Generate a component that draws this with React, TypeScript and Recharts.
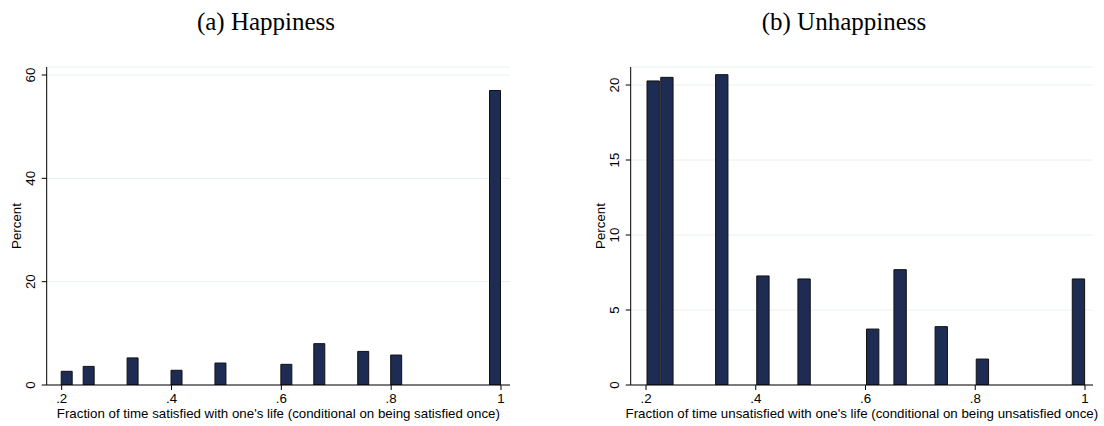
import React from 'react';
import { BarChart, Bar, XAxis, YAxis, CartesianGrid, Label } from 'recharts';

// ---- Data ----
// (a) Happiness: histogram bins of width 0.02 (bin centers) and percent
const happyBinCenters = [0.21, 0.25, 0.33, 0.41, 0.49, 0.61, 0.67, 0.75, 0.81, 0.99];
const happyPercent = [2.65, 3.6, 5.25, 2.85, 4.25, 4.0, 8.0, 6.5, 5.8, 57.0];
const happyBinWidth = 0.02;
const happyYTicks = [0, 20, 40, 60];

// (b) Unhappiness: histogram bins of width 0.025 (bin centers) and percent
const unhappyBinCenters = [0.2125, 0.2375, 0.3375, 0.4125, 0.4875, 0.6125, 0.6625, 0.7375, 0.8125, 0.9875];
const unhappyPercent = [20.27, 20.51, 20.69, 7.27, 7.07, 3.73, 7.69, 3.89, 1.73, 7.07];
const unhappyBinWidth = 0.025;
const unhappyYTicks = [0, 5, 10, 15, 20];

const xTicks = [0.2, 0.4, 0.6, 0.8, 1];

const titleA = '(a) Happiness';
const titleB = '(b) Unhappiness';
const xTitleA = "Fraction of time satisfied with one's life (conditional on being satisfied once)";
const xTitleB = "Fraction of time unsatisfied with one's life (conditional on being unsatisfied once)";
const yTitle = 'Percent';

// ---- Styles ----
const FONT = '"Liberation Sans", Arial, sans-serif';
const FS = 13.3;
const BAR_FILL = '#1e2c53';
const BAR_STROKE = '#111111';
const GRID = '#e8f0f2';

const toRows = (xs: number[], ys: number[]) => xs.map((x, i) => ({ x, pct: ys[i] }));

const fmtX = (v: number) => (v === 1 ? '1' : String(v).replace(/^0/, ''));

const XTick = (props: any) => {
  const { x, y, payload } = props;
  return (
    <text x={x} y={y} dy="0.71em" textAnchor="middle" fontFamily={FONT} fontSize={FS} fill="#000">
      {fmtX(payload.value)}
    </text>
  );
};

const YTick = (props: any) => {
  const { x, y, payload } = props;
  return (
    <text
      x={x}
      y={y}
      dy="0.35em"
      textAnchor="middle"
      transform={`rotate(-90, ${x}, ${y})`}
      fontFamily={FONT}
      fontSize={FS}
      fill="#000"
    >
      {payload.value}
    </text>
  );
};

type PanelProps = {
  rows: { x: number; pct: number }[];
  binWidth: number;
  yTicks: number[];
  yMax: number;
  xDomain: [number, number];
  xTitle: string;
  marginLeft: number;
  marginRight: number;
  width: number;
};

const Panel = ({ rows, binWidth, yTicks, yMax, xDomain, xTitle, marginLeft, marginRight, width }: PanelProps) => {
  const yAxisW = 46.7;
  const plotW = width - marginLeft - marginRight - yAxisW;
  const barSize = (binWidth * plotW) / (xDomain[1] - xDomain[0]);
  return (
    <BarChart
      width={width}
      height={426}
      data={rows}
      margin={{ top: 67, right: marginRight, bottom: 0, left: marginLeft }}
      barCategoryGap={0}
    >
      <CartesianGrid vertical={false} stroke={GRID} strokeWidth={1} />
      <XAxis
        type="number"
        dataKey="x"
        domain={xDomain}
        allowDataOverflow
        ticks={xTicks}
        interval={0}
        height={41}
        tickSize={5}
        tickMargin={4}
        axisLine={{ stroke: '#000', strokeWidth: 1 }}
        tickLine={{ stroke: '#000', strokeWidth: 1 }}
        tick={<XTick />}
      >
        <Label
          content={(p: any) => {
            const vb = p.viewBox;
            return (
              <text
                x={vb.x + vb.width / 2}
                y={vb.y + 33}
                textAnchor="middle"
                fontFamily={FONT}
                fontSize={FS}
                fill="#000"
              >
                {xTitle}
              </text>
            );
          }}
        />
      </XAxis>
      <YAxis
        type="number"
        domain={[0, yMax]}
        allowDataOverflow
        ticks={yTicks}
        interval={0}
        width={yAxisW}
        tickSize={5}
        tickMargin={11}
        axisLine={{ stroke: '#000', strokeWidth: 1 }}
        tickLine={{ stroke: '#000', strokeWidth: 1 }}
        tick={<YTick />}
      >
        <Label
          content={(p: any) => {
            const vb = p.viewBox;
            const cx = vb.x + vb.width - 30;
            const cy = vb.y + vb.height / 2;
            return (
              <text
                x={cx}
                y={cy}
                dy="0.35em"
                textAnchor="middle"
                transform={`rotate(-90, ${cx}, ${cy})`}
                fontFamily={FONT}
                fontSize={FS}
                fill="#000"
              >
                {yTitle}
              </text>
            );
          }}
        />
      </YAxis>
      <Bar
        dataKey="pct"
        fill={BAR_FILL}
        stroke={BAR_STROKE}
        strokeWidth={1}
        barSize={barSize}
        isAnimationActive={false}
      />
    </BarChart>
  );
};

const titleStyle: React.CSSProperties = {
  position: 'absolute',
  top: 7,
  fontFamily: '"Liberation Serif", "DejaVu Serif", serif',
  fontSize: 25,
  lineHeight: '30px',
  color: '#000',
  whiteSpace: 'nowrap',
  transform: 'translateX(-50%)',
};

export default function App() {
  return (
    <div
      style={{
        position: 'absolute',
        left: 0,
        top: 0,
        width: 1104,
        height: 426,
        background: '#fff',
        overflow: 'hidden',
      }}
    >
      <div style={{ ...titleStyle, left: 266 }}>{titleA}</div>
      <div style={{ ...titleStyle, left: 844 }}>{titleB}</div>
      <div style={{ position: 'absolute', left: 0, top: 0 }}>
        <Panel
          rows={toRows(happyBinCenters, happyPercent)}
          binWidth={happyBinWidth}
          yTicks={happyYTicks}
          yMax={61.55}
          xDomain={[0.1727, 1.0164]}
          xTitle={xTitleA}
          marginLeft={0}
          marginRight={42}
          width={552}
        />
      </div>
      <div style={{ position: 'absolute', left: 552, top: 0 }}>
        <Panel
          rows={toRows(unhappyBinCenters, unhappyPercent)}
          binWidth={unhappyBinWidth}
          yTicks={unhappyYTicks}
          yMax={21.2}
          xDomain={[0.1721, 1.0146]}
          xTitle={xTitleB}
          marginLeft={32}
          marginRight={11}
          width={552}
        />
      </div>
    </div>
  );
}
